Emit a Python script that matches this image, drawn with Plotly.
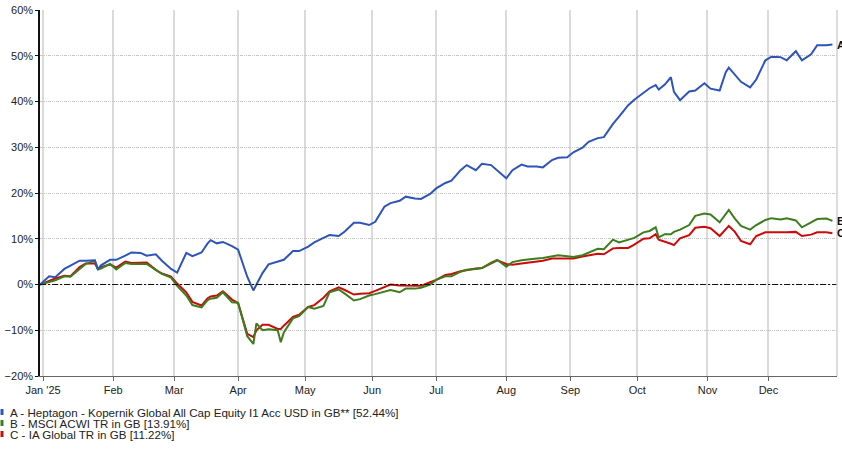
import plotly.graph_objects as go

dates = [
    "2024-12-31", "2025-01-03", "2025-01-07", "2025-01-10", "2025-01-14", "2025-01-17", "2025-01-21",
    "2025-01-24", "2025-01-27", "2025-01-28", "2025-01-31", "2025-02-04", "2025-02-07", "2025-02-11",
    "2025-02-14", "2025-02-18", "2025-02-21", "2025-02-25", "2025-02-28", "2025-03-04", "2025-03-07",
    "2025-03-11", "2025-03-14", "2025-03-18", "2025-03-19", "2025-03-21", "2025-03-25", "2025-03-28",
    "2025-04-01", "2025-04-04", "2025-04-08", "2025-04-09", "2025-04-11", "2025-04-15", "2025-04-18",
    "2025-04-21", "2025-04-22", "2025-04-25", "2025-04-29", "2025-05-02", "2025-05-06", "2025-05-09",
    "2025-05-13", "2025-05-16", "2025-05-20", "2025-05-23", "2025-05-27", "2025-05-30", "2025-06-03",
    "2025-06-06", "2025-06-10", "2025-06-13", "2025-06-17", "2025-06-20", "2025-06-24", "2025-06-27",
    "2025-07-01", "2025-07-04", "2025-07-08", "2025-07-11", "2025-07-15", "2025-07-18", "2025-07-22",
    "2025-07-25", "2025-07-29", "2025-08-01", "2025-08-05", "2025-08-08", "2025-08-12", "2025-08-15",
    "2025-08-19", "2025-08-22", "2025-08-26", "2025-08-29", "2025-09-02", "2025-09-05", "2025-09-09",
    "2025-09-12", "2025-09-16", "2025-09-19", "2025-09-23", "2025-09-26", "2025-09-30", "2025-10-03",
    "2025-10-07", "2025-10-09", "2025-10-10", "2025-10-14", "2025-10-16", "2025-10-17", "2025-10-21",
    "2025-10-24", "2025-10-28", "2025-10-31", "2025-11-04", "2025-11-07", "2025-11-11", "2025-11-12",
    "2025-11-14", "2025-11-18", "2025-11-21", "2025-11-25", "2025-11-28", "2025-12-02", "2025-12-05",
    "2025-12-09", "2025-12-12", "2025-12-16", "2025-12-19", "2025-12-23", "2025-12-26", "2025-12-30",
]

series_a = [
    0, 1.8, 1.6, 3.4, 4.1, 5.2, 5.2, 5.3, 3.3, 4.2, 5.4, 5.4, 6.3, 7.0, 6.9, 6.3, 6.6, 5.2, 3.4, 2.6,
    6.9, 6.2, 7.0, 9.0, 9.7, 9.0, 9.3, 8.4, 7.6, 1.7, -1.3, 0.0, 2.5, 4.4, 5.0, 5.2, 5.4, 7.3, 7.3, 8.3,
    9.2, 10.2, 10.8, 10.6, 11.6, 13.5, 13.5, 13.0, 13.7, 17.0, 17.8, 18.3, 19.2, 18.8, 18.7, 19.8,
    21.0, 22.2, 22.7, 25.0, 26.1, 25.0, 26.4, 26.1, 25.0, 23.2, 25.0, 26.2, 25.8, 25.8, 25.6, 27.2,
    27.7, 27.8, 28.9, 29.9, 31.2, 32.0, 32.2, 35.1, 36.7, 39.2, 40.4, 41.8, 42.9, 43.6, 42.6, 43.7,
    45.3, 42.1, 40.3, 42.2, 42.4, 44.0, 42.8, 42.4, 46.4, 47.4, 45.8, 44.3, 43.1, 44.8, 49.0, 49.8,
    49.7, 49.0, 51.0, 49.0, 50.3, 52.3, 52.3, 52.44,
]

series_b = [
    0, 0.6, 0.9, 1.8, 1.7, 3.4, 4.5, 5.2, 3.3, 3.5, 4.5, 3.3, 4.7, 4.5, 4.6, 4.5, 3.2, 2.3, 1.5, -0.3,
    -2.4, -4.5, -5.0, -3.4, -3.1, -2.9, -1.7, -3.9, -4.0, -11.3, -13.0, -8.5, -10.0, -9.8, -10.0,
    -12.6, -10.5, -7.4, -6.9, -4.9, -5.3, -4.7, -1.7, -1.1, -2.0, -3.5, -3.2, -2.4, -2.1, -1.5, -1.2,
    -1.7, -0.9, -0.9, -0.7, 0.0, 1.0, 1.8, 1.8, 2.8, 3.2, 3.4, 3.6, 4.8, 5.4, 3.9, 4.9, 5.3, 5.5, 5.7,
    5.8, 6.1, 6.4, 6.2, 6.0, 6.4, 6.9, 7.8, 7.7, 9.8, 9.2, 9.8, 10.2, 11.4, 11.7, 12.5, 10.3, 11.0,
    11.0, 11.5, 12.0, 13.0, 15.0, 15.5, 15.3, 13.6, 15.4, 16.3, 14.4, 12.8, 12.0, 13.0, 14.1, 14.5,
    14.2, 14.5, 14.0, 12.5, 13.6, 14.3, 14.4, 13.91,
]

series_c = [
    0, 0.8, 1.3, 1.9, 1.8, 3.8, 4.6, 4.6, 3.4, 3.8, 4.4, 3.7, 5.0, 4.7, 4.7, 4.8, 3.2, 2.4, 1.7, 0.2,
    -1.7, -3.8, -4.6, -3.0, -2.6, -2.4, -1.5, -3.3, -4.1, -10.8, -11.5, -10.0, -8.8, -8.8, -9.7, -9.7,
    -9.0, -7.1, -6.6, -4.9, -4.5, -2.9, -1.5, -0.6, -1.2, -2.2, -2.0, -1.9, -1.4, -0.6, 0.0, -0.2,
    -0.2, -0.3, -0.3, 0.5, 1.0, 2.1, 2.3, 2.9, 3.2, 3.5, 3.6, 4.7, 5.3, 4.5, 4.3, 4.6, 4.8, 5.0, 5.2,
    5.7, 5.7, 5.6, 5.7, 6.1, 6.3, 6.7, 6.6, 7.9, 8.0, 8.0, 8.7, 10.0, 10.1, 11.0, 9.8, 9.4, 8.9, 8.6,
    10.1, 10.8, 12.4, 12.6, 12.3, 10.6, 12.0, 12.8, 11.5, 9.5, 8.8, 10.6, 11.4, 11.4, 11.3, 11.4,
    11.5, 10.6, 10.9, 11.4, 11.4, 11.22,
]

series_names = [
    "A - Heptagon - Kopernik Global All Cap Equity I1 Acc USD in GB** [52.44%]",
    "B - MSCI ACWI TR in GB [13.91%]",
    "C - IA Global TR in GB [11.22%]",
]
series_tags = ["A", "B", "C"]
series_colors = ["#2d54b8", "#3d7d1e", "#cc0a0a"]

tick_dates = ["2025-01-01", "2025-02-03", "2025-03-03", "2025-04-01", "2025-05-01", "2025-06-02",
              "2025-07-01", "2025-08-01", "2025-09-01", "2025-10-01", "2025-11-03", "2025-12-01"]
tick_labels = ["Jan '25", "Feb", "Mar", "Apr", "May", "Jun", "Jul", "Aug", "Sep", "Oct", "Nov", "Dec"]

all_series = [series_a, series_b, series_c]

W, H = 842, 450
ML, MR, MT, MB = 40, 5, 10, 74
PW, PH = W - ML - MR, H - MT - MB


def px_x(px):
    return (px - ML) / PW


def px_y(py):
    return (H - MB - py) / PH


fig = go.Figure()
for idx in [2, 1, 0]:
    fig.add_trace(go.Scatter(
        x=dates, y=all_series[idx], mode="lines", name=series_names[idx],
        line=dict(color=series_colors[idx], width=2),
    ))

# zero reference line
fig.add_hline(y=0, line=dict(color="#111111", width=1, dash="6px,2px,2px,2px"), layer="above")

# right frame line
fig.add_shape(type="line", xref="paper", yref="paper", x0=1, x1=1, y0=0, y1=1,
              line=dict(color="#d0d0d0", width=1.5))

# end labels
for vals, tag in zip(all_series, series_tags):
    fig.add_annotation(x=dates[-1], y=vals[-1], text="<b>%s</b>" % tag, showarrow=False,
                       xanchor="left", yanchor="middle", xshift=3,
                       font=dict(size=11, color="#111111"))

# legend rows
row_y = [412.5, 423.5, 434.5]
for i in range(3):
    fig.add_shape(type="rect", xref="paper", yref="paper",
                  x0=px_x(0.5), x1=px_x(3.5), y0=px_y(row_y[i] - 3.5), y1=px_y(row_y[i] + 2.5),
                  line=dict(width=0), fillcolor=series_colors[i])
    fig.add_annotation(xref="paper", yref="paper", x=px_x(8), y=px_y(row_y[i]),
                       text=series_names[i], showarrow=False, xanchor="left", yanchor="middle",
                       font=dict(size=11.6, color="#222222"))

fig.update_layout(
    width=W, height=H,
    margin=dict(l=ML, r=MR, t=MT, b=MB, autoexpand=False),
    plot_bgcolor="white", paper_bgcolor="white",
    showlegend=False,
    font=dict(family="Liberation Sans, Arial, sans-serif", size=11, color="#222222"),
    xaxis=dict(
        type="date",
        range=["2024-12-31", "2025-12-31 12:00"],
        rangebreaks=[dict(bounds=["sat", "mon"])],
        tickmode="array", tickvals=tick_dates, ticktext=tick_labels,
        showgrid=True, gridcolor="#dadada", gridwidth=1.5,
        ticks="outside", ticklen=4, tickcolor="#666666",
        showline=True, linecolor="#666666", linewidth=1,
        zeroline=False, automargin=False, tickfont=dict(size=11, color="#222222"),
    ),
    yaxis=dict(
        range=[-20, 60], tickmode="linear", tick0=-20, dtick=10, ticksuffix="%",
        showgrid=True, gridcolor="#c8c8c8", gridwidth=1, griddash="3px,1px,1px,1px,1px,1px",
        ticks="outside", ticklen=3, tickcolor="#111111",
        showline=True, linecolor="#111111", linewidth=1.5,
        zeroline=False, automargin=False, tickfont=dict(size=11, color="#222222"),
    ),
)

fig.write_html(
    "out.html",
    config={"displayModeBar": False},
    post_script="document.body.style.margin='0';document.body.style.overflow='hidden';",
)
